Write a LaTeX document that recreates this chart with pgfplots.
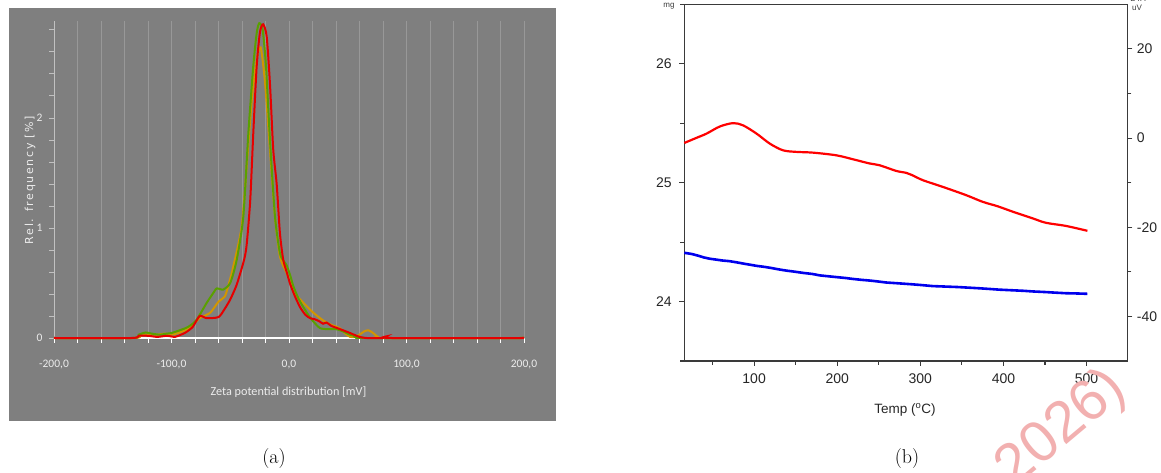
\documentclass[border=0pt]{standalone}
\usepackage{pgfplots}
\pgfplotsset{compat=1.18}
\usepackage{fontspec}
\newfontfamily\arial{Liberation Sans}
\newfontfamily\carlito{Carlito}
\newfontfamily\dejals{DejaVu Sans}[LetterSpace=15]
\definecolor{bggray}{HTML}{7F7F7F}
\definecolor{gridg}{HTML}{989898}
\definecolor{txtlight}{HTML}{ECECEC}
\definecolor{cgreen}{HTML}{5AA000}
\definecolor{corange}{HTML}{D29600}
\definecolor{cred}{HTML}{E60000}
\definecolor{axdark}{HTML}{3A3A3A}
\definecolor{wm}{HTML}{F2B0B0}
\begin{document}
\begin{tikzpicture}[x=1pt,y=1pt]
\useasboundingbox (0,0) rectangle (1161,473);
% panel (a) background
\fill[bggray] (9,52) rectangle (556,465);
\begin{axis}[
  at={(54pt,135pt)}, anchor=south west,
  scale only axis, width=470pt, height=317pt,
  xmin=-200, xmax=200, ymin=0, ymax=2.88,
  axis x line*=bottom, axis y line*=left,
  x axis line style={white, line width=1.2pt},
  y axis line style={gridg!60!white, line width=0.8pt},
  xtick={-200,-100,0,100,200},
  xticklabels={{-200,0},{-100,0},{0,0},{100,0},{200,0}},
  minor xtick={-180,-160,-140,-120,-80,-60,-40,-20,20,40,60,80,120,140,160,180},
  xmajorgrids, xminorgrids,
  major grid style={gridg, line width=0.8pt},
  minor grid style={gridg, line width=0.8pt},
  ytick={0,1,2}, yticklabels={0,1,2},
  minor ytick={0.2,0.4,0.6,0.8,1.2,1.4,1.6,1.8,2.2,2.4,2.6,2.8},
  tick align=outside, major tick length=5pt, minor tick length=5pt,
  x tick style={white, line width=0.8pt},
  y tick style={gridg!60!white, line width=0.7pt},
  ticklabel style={font=\carlito\fontsize{11.5}{13}\selectfont, text=txtlight},
  xticklabel style={yshift=-14pt},
  yticklabel style={xshift=-3pt},
  clip=false,
]
\addplot[corange, line width=2pt, smooth, tension=0.4] coordinates {
(-200,0) (-132,0) (-127,0.02) (-120,0.03) (-112,0.03) (-106,0.04) (-100,0.03)
(-93,0.05) (-85,0.09) (-76,0.18) (-67,0.23) (-60,0.33) (-54.5,0.38) (-51,0.5)
(-47.4,0.65) (-40.3,1.01) (-36,1.56) (-31.7,2.16) (-27.5,2.53) (-24.1,2.64)
(-20.4,2.32) (-16.2,1.71) (-11.9,1.1) (-7.7,0.74) (-2,0.59) (5,0.41) (12.2,0.32)
(20.7,0.23) (29,0.16) (36,0.12) (43,0.09) (48,0.04) (52,0.01) (56,0.01) (60,0.03)
(64,0.06) (67.5,0.07) (71,0.05) (75.7,0.01) (80,0) (200,0)};
\addplot[cgreen, line width=2pt, smooth, tension=0.4] coordinates {
(-200,0) (-133,0) (-128,0.03) (-122,0.05) (-117,0.04) (-110,0.03) (-104,0.04)
(-100,0.045) (-93,0.07) (-86,0.1) (-79,0.16) (-70,0.32) (-65,0.4) (-61.5,0.45)
(-56,0.44) (-50,0.5) (-44.5,0.71) (-38.9,1.10) (-34.6,1.86) (-30.4,2.47)
(-27.5,2.77) (-25.3,2.86) (-22.4,2.8) (-19.6,2.47) (-16.2,1.8) (-11.9,1.1)
(-7.7,0.77) (-4.5,0.7) (-2,0.66) (1,0.57) (3.7,0.47) (8,0.36) (12.2,0.28)
(17,0.2) (20.7,0.15) (26.4,0.09) (33,0.08) (40,0.08) (46,0.06) (52,0.03)
(60,0.01) (64,0) (200,0)};
\addplot[cred, line width=2pt, smooth, tension=0.4] coordinates {
(-200,0) (-134,0) (-128,0.02) (-120,0.02) (-112,0.01) (-104,0.02) (-97,0.01)
(-92,0.03) (-88,0.05) (-82,0.1) (-76,0.2) (-70,0.18) (-60,0.19) (-55,0.26)
(-50,0.35) (-45,0.47) (-41.7,0.58) (-38,0.72) (-36,0.85) (-33,1.25) (-30.4,1.86)
(-27.5,2.47) (-24.7,2.78) (-22,2.85) (-19,2.74) (-16.2,2.31) (-13.4,1.71)
(-10.5,1.40) (-7.7,0.95) (-4.9,0.71) (-2,0.6) (1,0.49) (5,0.38) (9.4,0.28)
(14,0.21) (18,0.18) (22,0.17) (26,0.15) (29,0.13) (32,0.14) (36,0.11) (41,0.09)
(46,0.07) (52,0.045) (60,0.01) (66,0) (80,0) (83,0.015) (87,0) (200,0)};
\end{axis}
\node[text=txtlight, font=\carlito\fontsize{12.2}{14}\selectfont] at (288.5,81) {Zeta potential distribution [mV]};
\node[text=txtlight, rotate=90, font=\dejals\fontsize{11}{12}\selectfont] at (30,293) {Rel. frequency [\%]};
\node[font=\fontsize{20}{24}\selectfont] at (274,14) {(a)};
% panel (b)
\begin{axis}[
  at={(684.3pt,112pt)}, anchor=south west,
  scale only axis, width=443pt, height=356.7pt,
  xmin=16, xmax=549, ymin=23.5, ymax=26.5,
  xtick pos=bottom, ytick pos=left,
  axis line style={axdark, line width=1.3pt},
  xtick={100,200,300,400,500}, minor xtick={50,150,250,350,450},
  ytick={24,25,26}, minor ytick={23.5,24.5,25.5,26.5},
  tick align=outside, major tick length=5pt, minor tick length=4pt,
  tick style={axdark, line width=1.1pt},
  ticklabel style={font=\arial\fontsize{14}{16}\selectfont, text=black!85},
  xticklabel style={yshift=-4pt},
  yticklabel style={xshift=-4pt},
  /pgf/number format/assume math mode=true,
  clip=false,
]
\addplot[blue!93!black, line width=2.6pt] coordinates {
(16,24.41) (25,24.40) (33,24.385) (40,24.37) (46.8,24.36) (55,24.352) (62,24.345)
(70,24.34) (78.8,24.33) (88,24.318) (95,24.31) (103,24.30) (112,24.292)
(120,24.283) (130,24.27) (139,24.26) (150,24.25) (160,24.24) (170,24.232)
(179,24.22) (190,24.212) (200,24.205) (210,24.198) (219,24.19) (230,24.182)
(240,24.176) (250,24.168) (259,24.16) (270,24.155) (280,24.15) (290,24.145)
(299,24.14) (307,24.135) (315,24.13) (330,24.126) (345,24.122) (355,24.118)
(370,24.112) (385,24.105) (395,24.10) (410,24.095) (425,24.09) (435,24.085)
(450,24.08) (462,24.075) (475,24.07) (488,24.068) (501,24.065)};
\end{axis}
\begin{axis}[
  at={(684.3pt,112pt)}, anchor=south west,
  scale only axis, width=443pt, height=356.7pt,
  xmin=16, xmax=549, ymin=-50, ymax=30,
  axis x line=none, axis y line*=right,
  axis line style={axdark, line width=1.3pt},
  ytick={-40,-20,0,20}, minor ytick={-30,-10,10},
  tick align=outside, major tick length=5pt, minor tick length=4pt,
  tick style={axdark, line width=1.1pt},
  ticklabel style={font=\arial\fontsize{14}{16}\selectfont, text=black!85},
  yticklabel style={xshift=1pt},
  /pgf/number format/assume math mode=true,
  clip=false,
]
\addplot[red, line width=2.2pt, smooth, tension=0.5] coordinates {
(16,-1.1) (30,0.0) (42.8,1.0) (58.8,2.6) (74.8,3.35) (86.8,2.84) (102.9,1.0)
(118.9,-1.25) (134.8,-2.75) (150.9,-3.1) (170.9,-3.27) (199,-3.87) (219,-4.76)
(239,-5.7) (251,-6.1) (271,-7.37) (283,-7.8) (290,-8.3) (303,-9.45) (327,-10.95)
(355,-12.8) (375,-14.3) (393,-15.3) (411,-16.5) (435,-18) (451,-19) (475,-19.7)
(501,-20.8)};
\end{axis}
\node[font=\arial\fontsize{13.5}{15}\selectfont, text=black!85] at (905,63) {Temp (\textsuperscript{o}C)};
\node[font=\arial\fontsize{8}{9}\selectfont, text=axdark] at (669,467) {mg};
\node[font=\arial\fontsize{8}{9}\selectfont, text=axdark] at (1137,465) {uV};
\node[font=\arial\fontsize{8}{9}\selectfont, text=axdark] at (1138,474) {DTA};
\node[font=\fontsize{20}{24}\selectfont] at (907,14) {(b)};
\node[font=\arial\fontsize{58}{62}\selectfont, text=wm, rotate=40, anchor=west, inner sep=0pt] at (1005,-4) {2026)};
\end{tikzpicture}
\end{document}
